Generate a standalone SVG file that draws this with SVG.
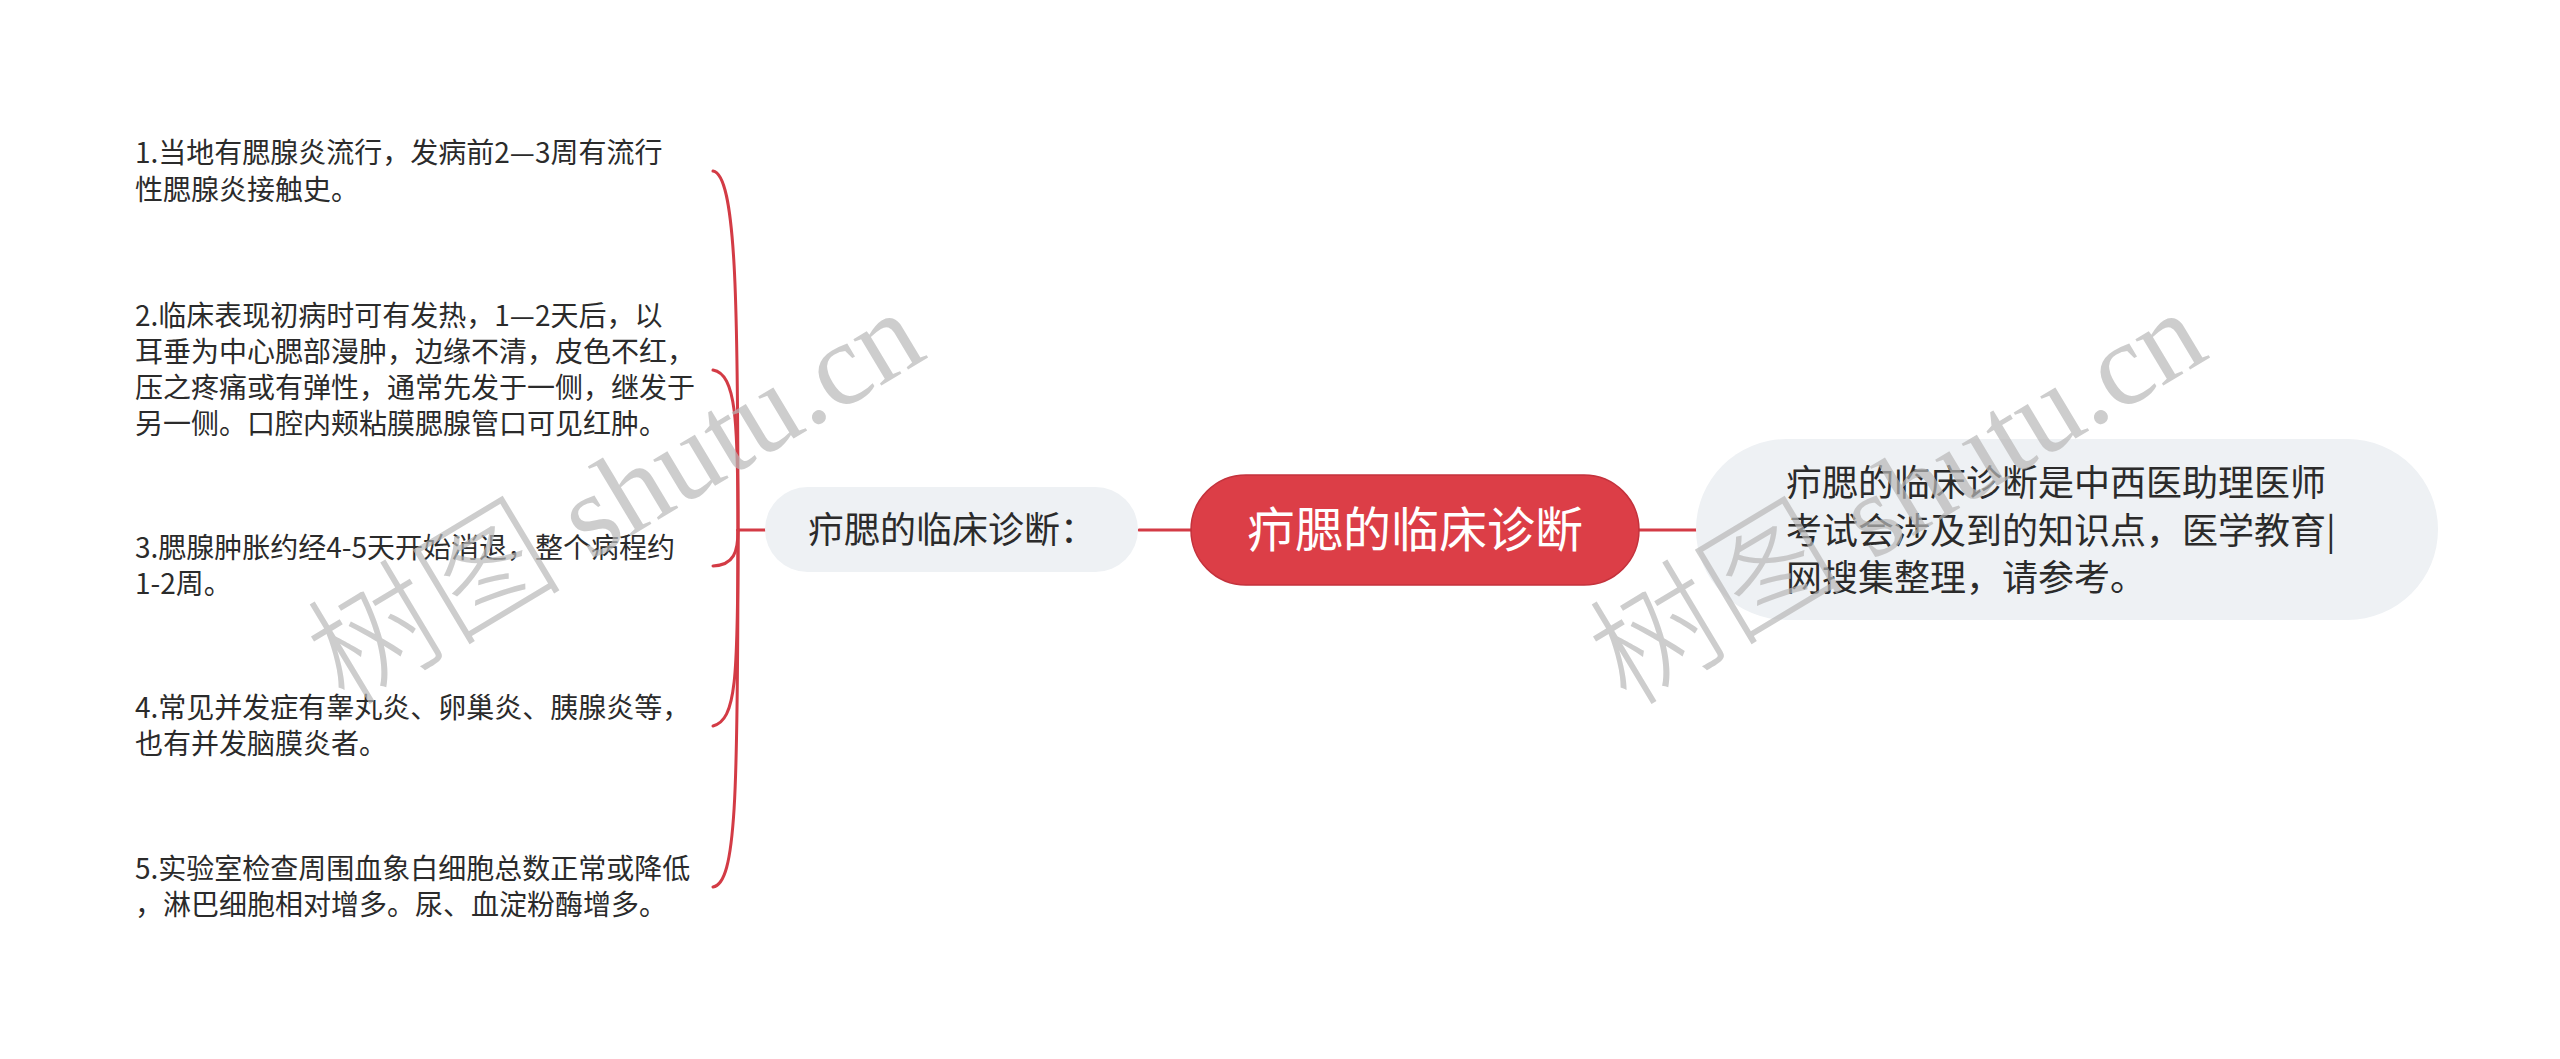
<svg xmlns="http://www.w3.org/2000/svg" width="2560" height="1059" viewBox="0 0 2560 1059">
<style>
.leaf{font-family:"Noto Sans CJK SC","Liberation Sans",sans-serif;font-size:28px;fill:#2b2b2b}
.sub{font-family:"Noto Sans CJK SC","Liberation Sans",sans-serif;font-size:36px;fill:#2b2b2b}
.root{font-family:"Noto Sans CJK SC","Liberation Sans",sans-serif;font-size:48px;fill:#ffffff}
.pill{fill:#eef1f4}
.conn{fill:none;stroke:#d33b45;stroke-width:3;stroke-linecap:round}
.wm{font-family:"Liberation Serif","Noto Sans CJK SC",serif;font-size:118px;fill:#b8b8b8;opacity:0.7}
.wmc{font-family:"Noto Sans CJK SC",sans-serif;font-size:128px;font-weight:300}
</style>
<rect width="2560" height="1059" fill="#ffffff"/>
<g id="connectors">
<path class="conn" d="M1139 530 H1191"/>
<path class="conn" d="M1639 530 H1696"/>
<path class="conn" d="M738 530 H765"/>
<path class="conn" d="M738 530 C738 300 736 175 713 171"/>
<path class="conn" d="M738 530 C738 420 736 374 713 370"/>
<path class="conn" d="M738 530 C738 552 734 565 713 566"/>
<path class="conn" d="M738 530 C738 680 736 720 713 726"/>
<path class="conn" d="M738 530 C738 800 736 883 713 887"/>
</g>
<g id="root">
<rect x="1191" y="475" width="448" height="110" rx="55" fill="#dc3e47" stroke="#c4323c" stroke-width="1.5"/>
<text class="root" x="1415" y="547" text-anchor="middle">疖腮的临床诊断</text>
</g>
<g id="sub-left">
<rect class="pill" x="765" y="487" width="373" height="85" rx="42.5"/>
<text class="sub" x="808" y="543">疖腮的临床诊断：</text>
</g>
<g id="sub-right">
<rect class="pill" x="1696" y="439" width="742" height="181" rx="90.5"/>
<text class="sub" x="1786" y="496">疖腮的临床诊断是中西医助理医师</text>
<text class="sub" x="1786" y="544">考试会涉及到的知识点，医学教育|</text>
<text class="sub" x="1786" y="591">网搜集整理，请参考。</text>
</g>
<g id="leaf1">
<text class="leaf" x="135" y="163">1.当地有腮腺炎流行，发病前2—3周有流行</text>
<text class="leaf" x="135" y="200">性腮腺炎接触史。</text>
</g>
<g id="leaf2">
<text class="leaf" x="135" y="326">2.临床表现初病时可有发热，1—2天后，以</text>
<text class="leaf" x="135" y="362">耳垂为中心腮部漫肿，边缘不清，皮色不红，</text>
<text class="leaf" x="135" y="398">压之疼痛或有弹性，通常先发于一侧，继发于</text>
<text class="leaf" x="135" y="434">另一侧。口腔内颊粘膜腮腺管口可见红肿。</text>
</g>
<g id="leaf3">
<text class="leaf" x="135" y="558">3.腮腺肿胀约经4-5天开始消退，整个病程约</text>
<text class="leaf" x="135" y="594">1-2周。</text>
</g>
<g id="leaf4">
<text class="leaf" x="135" y="718">4.常见并发症有睾丸炎、卵巢炎、胰腺炎等，</text>
<text class="leaf" x="135" y="754">也有并发脑膜炎者。</text>
</g>
<g id="leaf5">
<text class="leaf" x="135" y="879">5.实验室检查周围血象白细胞总数正常或降低</text>
<text class="leaf" x="135" y="915">，淋巴细胞相对增多。尿、血淀粉酶增多。</text>
</g>
<g id="watermark">
<text class="wm" x="345" y="708" transform="rotate(-31 345 708)"><tspan class="wmc">树图</tspan> shutu.cn</text>
<text class="wm" x="1627" y="708" transform="rotate(-31 1627 708)"><tspan class="wmc">树图</tspan> shutu.cn</text>
</g>
</svg>
